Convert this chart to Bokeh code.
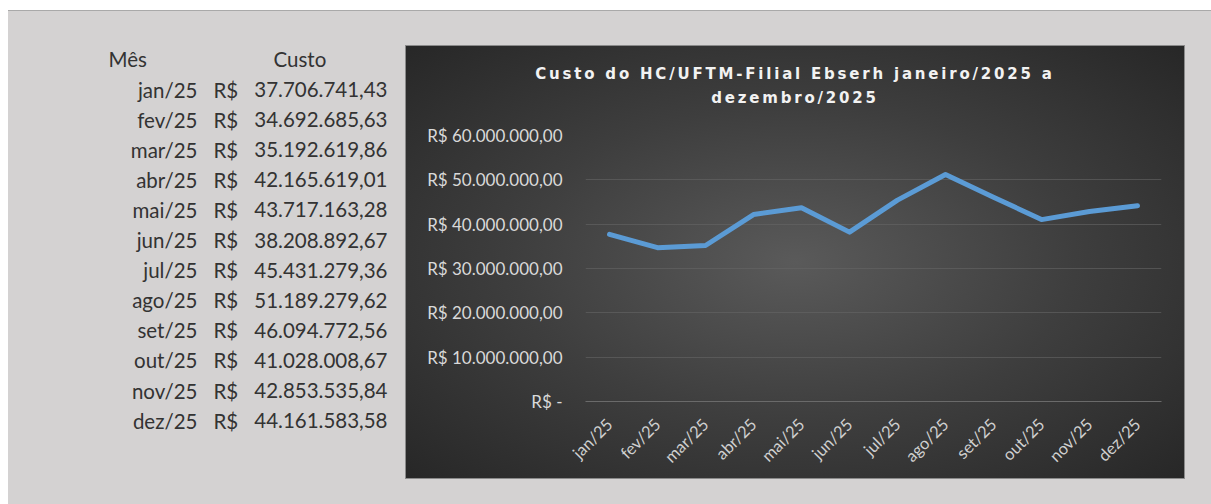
from bokeh.plotting import figure
from bokeh.models import (FactorRange, Range1d, FixedTicker, CustomJSTickFormatter,
                          ColumnDataSource, Spacer, Div)
from bokeh.layouts import row, column
from bokeh.embed import file_html
from bokeh.resources import INLINE
from bokeh.core.properties import value
import math

# ---------------- data ----------------
months = ["jan/25", "fev/25", "mar/25", "abr/25", "mai/25", "jun/25",
          "jul/25", "ago/25", "set/25", "out/25", "nov/25", "dez/25"]
costs = [37706741.43, 34692685.63, 35192619.86, 42165619.01, 43717163.28, 38208892.67,
         45431279.36, 51189279.62, 46094772.56, 41028008.67, 42853535.84, 44161583.58]
y_ticks = [0, 10000000, 20000000, 30000000, 40000000, 50000000, 60000000]
header_labels = ["Mês", "Custo"]
title_lines = ["Custo do HC/UFTM-Filial Ebserh janeiro/2025 a", "dezembro/2025"]


def brl(v):
    s = f"{v:,.2f}"
    return s.replace(",", "X").replace(".", ",").replace("X", ".")


cost_labels = [brl(v) for v in costs]

GRAY = "#d4d2d2"
TXT = "#333333"
FONT = "Lato"

TOTAL_W, TOTAL_H = 1211, 504
LEFT_WHITE, TOP_WHITE, TOP_LINE = 8, 10, 1
GW = TOTAL_W - LEFT_WHITE
GH = TOTAL_H - TOP_WHITE - TOP_LINE

# ---------------- table (left) ----------------
TW = 397
ROW0 = 78.0      # pixel of first data row inside the table canvas
PITCH = 30.1
top = -1 - (ROW0 - PITCH) / PITCH
bottom = 11 + (GH - (ROW0 + 11 * PITCH)) / PITCH
tab = figure(width=TW, height=GH, x_range=Range1d(0, TW), y_range=Range1d(bottom, top),
             toolbar_location=None, output_backend="svg", min_border=0,
             x_axis_location=None, y_axis_location=None)
tab.grid.visible = False
tab.outline_line_color = None
tab.background_fill_color = GRAY
tab.border_fill_color = GRAY

src = ColumnDataSource(dict(month=months, idx=list(range(len(months))),
                            cur=["R$"] * len(months), val=cost_labels))
common = dict(text_font=value(FONT), text_font_size="20.5px", text_color=TXT,
              text_baseline="middle")
tab.text(x=189, y="idx", text="month", source=src, text_align="right", **common)
tab.text(x=205, y="idx", text="cur", source=src, text_align="left", **common)
tab.text(x=379, y="idx", text="val", source=src, text_align="right", **common)
tab.text(x=[100, 265], y=[-1, -1], text=header_labels, text_align="left", **common)

# ---------------- chart (right) ----------------
BOX_W, BOX_H = 780, 434      # dark chart box
HEAD_H = 70                  # title band on top of the plot canvas
CW, CH = BOX_W, BOX_H - HEAD_H
ML, MR, MT, MB = 180, 24, 20, 78
RX, RY = BOX_W * 0.72, BOX_H * 0.72
EDGE = "#8a8a8a"


def grad(dy):
    return (f"radial-gradient(ellipse {RX:.0f}px {RY:.0f}px at {BOX_W/2:.0f}px {BOX_H/2 - dy:.0f}px, "
            "#5a5a5a 0%, #3e3e3e 50%, #262626 100%)")


head = Div(
    text=f'<div style="padding-top:17px">{title_lines[0]}<br>{title_lines[1]}</div>',
    width=BOX_W, height=HEAD_H, margin=0,
    styles={"background": grad(0),
            "box-shadow": f"inset 1px 0 0 {EDGE}, inset -1px 0 0 {EDGE}, inset 0 1px 0 {EDGE}",
            "text-align": "center", "color": "#f2f2f2",
            "font-family": "DejaVu Sans", "font-weight": "bold", "font-size": "15px",
            "letter-spacing": "2.8px", "line-height": "24px", "overflow": "hidden"},
)

ch = figure(width=CW, height=CH, x_range=FactorRange(*months, range_padding=0),
            y_range=Range1d(0, 60000000), toolbar_location=None, output_backend="svg",
            min_border_left=ML, min_border_right=MR, min_border_top=MT,
            min_border_bottom=MB, title=None)
ch.background_fill_alpha = 0
ch.border_fill_alpha = 0
ch.outline_line_color = None
ch.styles = {"background": grad(HEAD_H),
             "box-shadow": f"inset 1px 0 0 {EDGE}, inset -1px 0 0 {EDGE}, inset 0 -1px 0 {EDGE}"}

ch.line(x=months, y=costs, line_color="#5b9bd5", line_width=5,
        line_join="round", line_cap="round")

ch.yaxis.ticker = FixedTicker(ticks=y_ticks)
ch.yaxis.formatter = CustomJSTickFormatter(code="""
    const v = Math.round(tick);
    if (v === 0) return "R$ -";
    const s = v.toString().replace(/\\B(?=(\\d{3})+(?!\\d))/g, ".");
    return "R$ " + s + ",00";
""")
ch.yaxis.axis_line_color = None
ch.yaxis.major_tick_line_color = None
ch.yaxis.minor_tick_line_color = None
ch.yaxis.major_label_standoff = 17
ch.yaxis.major_label_text_color = "#d9d9d9"
ch.yaxis.major_label_text_font = FONT
ch.yaxis.major_label_text_font_size = "17px"

ch.xaxis.axis_line_color = "#6a6a6a"
ch.xaxis.major_tick_line_color = None
ch.xaxis.major_label_orientation = math.pi / 4
ch.xaxis.major_label_standoff = 14
ch.xaxis.major_label_text_color = "#d0d0d0"
ch.xaxis.major_label_text_font = FONT
ch.xaxis.major_label_text_font_size = "16.5px"

ch.xgrid.visible = False
ch.ygrid.ticker = FixedTicker(ticks=y_ticks)
ch.ygrid.grid_line_color = "#666666"
ch.ygrid.grid_line_alpha = 0.6

CHART_TOP = 34
gray = row(
    tab,
    column(Spacer(width=BOX_W, height=CHART_TOP), head, ch,
           Spacer(width=BOX_W, height=GH - CHART_TOP - BOX_H)),
    Spacer(width=GW - TW - BOX_W, height=GH),
    styles={"background-color": GRAY},
)
layout = column(
    Spacer(width=TOTAL_W, height=TOP_WHITE),
    row(Spacer(width=LEFT_WHITE, height=GH + TOP_LINE),
        column(Spacer(width=GW, height=TOP_LINE, styles={"background-color": "#a9a9a9"}), gray)),
)

open("out.html", "w").write(file_html(layout, INLINE))
